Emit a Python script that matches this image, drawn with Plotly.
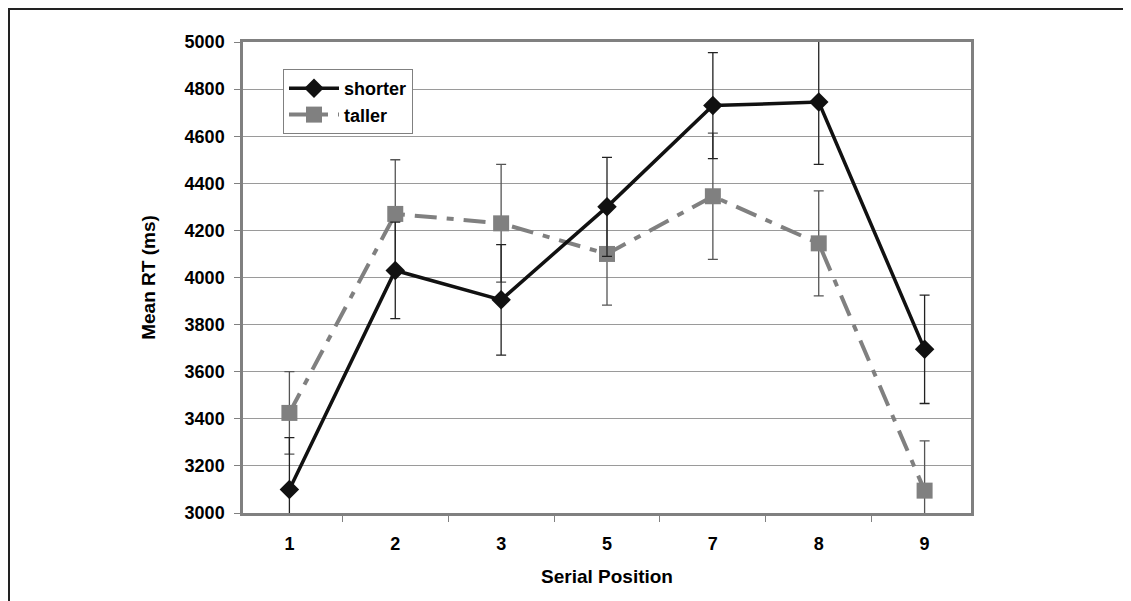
import plotly.graph_objects as go

categories = ["1", "2", "3", "5", "7", "8", "9"]
shorter = [3100, 4030, 3905, 4300, 4730, 4745, 3695]
shorter_err = [220, 205, 235, 210, 225, 265, 230]
taller = [3425, 4270, 4230, 4100, 4345, 4145, 3095]
taller_err = [175, 230, 250, 217, 268, 223, 211]
y_ticks = [3000, 3200, 3400, 3600, 3800, 4000, 4200, 4400, 4600, 4800, 5000]

FONT = "Liberation Sans, Arial, sans-serif"
W, H = 1123, 593
L, R, T, B = 235, 160, 34, 88
PW, PH = W - L - R, H - T - B

fig = go.Figure()
fig.add_trace(go.Scatter(
    x=categories, y=taller, name="<b>taller</b>", mode="lines+markers",
    line=dict(color="#808080", width=4, dash="22px,10px,7px,10px"),
    marker=dict(symbol="square", size=16, color="#808080"),
    error_y=dict(type="data", array=taller_err, visible=True,
                 color="#555555", thickness=1.3, width=5),
))
fig.add_trace(go.Scatter(
    x=categories, y=shorter, name="<b>shorter</b>", mode="lines+markers",
    line=dict(color="#111111", width=3.5),
    marker=dict(symbol="diamond", size=15, color="#111111"),
    error_y=dict(type="data", array=shorter_err, visible=True,
                 color="#222222", thickness=1.3, width=5),
))

fig.update_layout(
    width=W, height=H,
    margin=dict(l=L, r=R, t=T, b=B),
    paper_bgcolor="white", plot_bgcolor="white",
    font=dict(family=FONT, size=18, color="black"),
    showlegend=True,
    legend=dict(
        x=40 / PW, y=1 - 27 / PH, xanchor="left", yanchor="top",
        bgcolor="white", bordercolor="#808080", borderwidth=1,
        font=dict(family=FONT, size=18, color="black"),
        traceorder="reversed", tracegroupgap=0, itemwidth=50,
    ),
    xaxis=dict(
        type="category", categoryorder="array", categoryarray=categories,
        tickson="boundaries", ticks="outside", ticklen=6, tickcolor="#808080",
        showline=True, linecolor="#808080", linewidth=2.5, mirror=True,
        showgrid=False, zeroline=False,
        tickfont=dict(family=FONT, size=18, color="black"),
        ticklabelstandoff=13,
        title=dict(text="<b>Serial Position</b>", font=dict(family=FONT, size=19), standoff=17),
        tickprefix="<b>", ticksuffix="</b>",
    ),
    yaxis=dict(
        range=[3000, 5000], tickvals=y_ticks,
        ticktext=[f"<b>{v}</b>" for v in y_ticks],
        ticks="outside", ticklen=6, tickcolor="#808080",
        showline=True, linecolor="#808080", linewidth=2.5, mirror=True,
        showgrid=True, gridcolor="#9a9a9a", gridwidth=1, zeroline=False,
        tickfont=dict(family=FONT, size=18, color="black"),
        ticklabelstandoff=6,
        title=dict(text="<b>Mean RT (ms)</b>", font=dict(family=FONT, size=19), standoff=24),
    ),
    shapes=[
        dict(type="line", xref="paper", yref="paper", x0=-L / PW, x1=1.0 + R / PW,
             y0=1 + (T - 1) / PH, y1=1 + (T - 1) / PH, line=dict(color="#222222", width=2)),
        dict(type="line", xref="paper", yref="paper", x0=(1 - L) / PW, x1=(1 - L) / PW,
             y0=1 + T / PH, y1=-B / PH, line=dict(color="#222222", width=2)),
    ],
)

fig.write_html("out.html")
